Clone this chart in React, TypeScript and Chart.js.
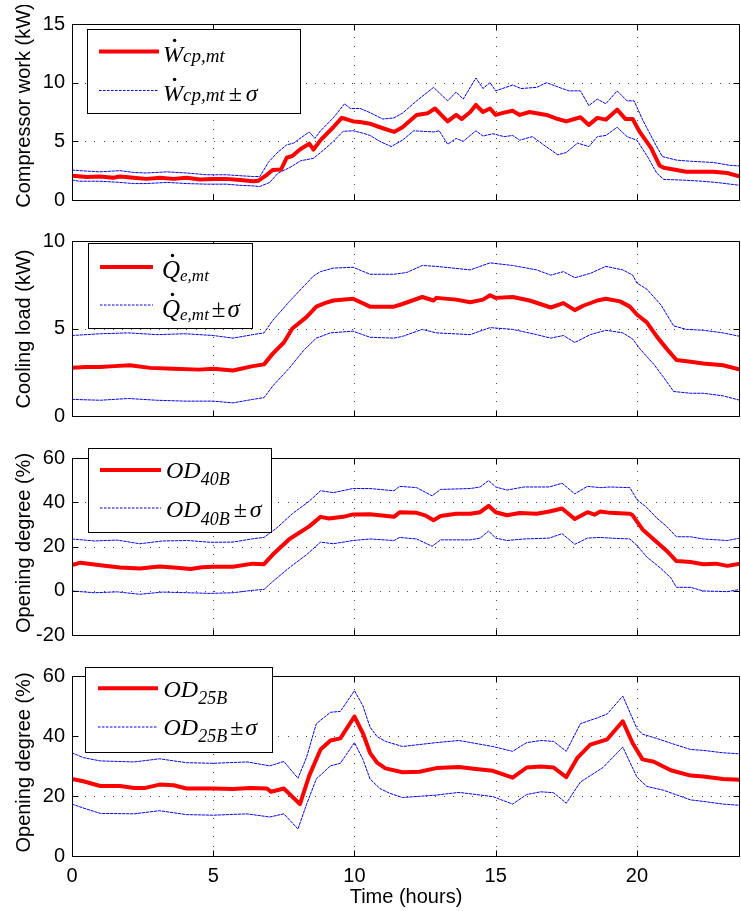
import React, { useEffect, useRef } from 'react';
import { Chart, registerables } from 'chart.js';

Chart.register(...registerables);

// ---------------- axes ----------------
const X_MIN = 0;
const X_MAX = 23.65;
const xTicks = [0, 5, 10, 15, 20];
const xTitle = 'Time (hours)';

const yTitles = ['Compressor work (kW)', 'Cooling load (kW)', 'Opening degree (%)', 'Opening degree (%)'];
const yRanges = [[0, 15], [0, 10], [-20, 60], [0, 60]];
const yTicks1 = [0, 5, 10, 15];
const yTicks2 = [0, 5, 10];
const yTicks3 = [-20, 0, 20, 40, 60];
const yTicks4 = [0, 20, 40, 60];

// ---------------- legend text ----------------
const legendSymbols = ['W', 'Q', 'OD', 'OD'];
const legendSubs = ['cp,mt', 'e,mt', '40B', '25B'];
const legendDotted = [true, true, false, false];
const legendPm = '±';
const legendSigma = 'σ';

// ---------------- Panel 1: compressor work (kW) ----------------
const wcpMeanT = [0, 0.52, 0.99, 1.46, 1.7, 2.17, 2.64, 3.12, 3.59, 4.06, 4.53, 5.0, 5.47, 5.95, 6.42, 6.6, 6.9, 7.1, 7.4, 7.6, 7.8, 8.07, 8.4, 8.55, 8.8, 9.0, 9.25, 9.55, 9.7, 9.96, 10.2, 10.55, 10.9, 11.4, 11.7, 12.2, 12.6, 12.85, 13.3, 13.6, 13.8, 14.1, 14.3, 14.55, 14.8, 15.0, 15.3, 15.6, 15.85, 16.2, 16.8, 17.2, 17.5, 18.0, 18.3, 18.6, 18.9, 19.3, 19.6, 19.85, 20.1, 20.5, 20.8, 20.95, 21.3, 21.75, 22.3, 22.7, 23.2, 23.65];
const wcpMean = [2.07, 1.96, 2.0, 1.9, 2.0, 1.9, 1.8, 1.9, 1.8, 1.9, 1.75, 1.8, 1.8, 1.7, 1.6, 1.65, 2.15, 2.55, 2.6, 3.6, 3.75, 4.3, 4.8, 4.3, 5.1, 5.6, 6.2, 7.0, 6.9, 6.7, 6.65, 6.5, 6.2, 5.8, 6.2, 7.25, 7.4, 7.8, 6.7, 7.25, 6.9, 7.5, 8.1, 7.5, 7.8, 7.25, 7.45, 7.6, 7.25, 7.5, 7.25, 6.9, 6.7, 7.05, 6.4, 7.0, 6.85, 7.7, 6.9, 6.9, 5.8, 4.45, 2.95, 2.75, 2.6, 2.4, 2.4, 2.4, 2.3, 2.0];
const wcpUpT = [0, 0.28, 0.99, 1.7, 2.17, 2.64, 3.36, 4.06, 4.77, 5.47, 5.95, 6.42, 6.65, 6.95, 7.25, 7.6, 7.85, 8.07, 8.4, 8.6, 8.8, 9.25, 9.65, 9.85, 10.2, 10.55, 11.0, 11.4, 11.7, 12.2, 12.8, 13.3, 13.6, 13.85, 14.3, 14.55, 14.8, 15.0, 15.6, 15.9, 16.45, 16.8, 17.3, 17.6, 18.0, 18.3, 18.6, 18.9, 19.3, 19.65, 19.9, 20.2, 20.6, 20.9, 21.4, 21.9, 22.7, 23.3, 23.65];
const wcpUp = [2.55, 2.5, 2.4, 2.5, 2.35, 2.3, 2.4, 2.3, 2.15, 2.15, 2.07, 2.0, 2.0, 3.2, 4.0, 4.7, 4.85, 5.25, 5.8, 5.25, 5.9, 7.0, 8.2, 7.8, 7.8, 7.45, 6.9, 7.0, 7.4, 8.45, 9.6, 8.45, 9.2, 8.6, 10.4, 9.5, 10.0, 9.3, 9.8, 9.5, 9.6, 10.0, 9.55, 9.3, 9.3, 8.05, 8.6, 8.2, 9.3, 8.45, 8.45, 6.85, 5.0, 3.7, 3.4, 3.3, 3.2, 2.95, 2.9];
const wcpLoT = [0, 0.28, 0.99, 1.7, 2.17, 2.64, 3.36, 4.06, 4.77, 5.47, 5.95, 6.42, 6.65, 7.0, 7.3, 7.7, 8.1, 8.55, 9.0, 9.25, 9.6, 9.95, 10.3, 10.55, 10.9, 11.3, 11.7, 12.1, 12.8, 13.0, 13.3, 13.6, 13.85, 14.3, 14.55, 14.9, 15.3, 15.6, 15.85, 16.3, 16.7, 17.2, 17.5, 17.9, 18.3, 18.6, 18.9, 19.3, 19.65, 20.0, 20.4, 20.7, 20.95, 21.6, 22.3, 22.8, 23.65];
const wcpLo = [1.7, 1.6, 1.6, 1.5, 1.4, 1.4, 1.5, 1.4, 1.35, 1.35, 1.25, 1.2, 1.15, 1.5, 2.3, 2.75, 3.35, 3.55, 4.45, 5.0, 5.85, 5.9, 5.7, 5.5, 5.0, 4.55, 5.1, 5.9, 5.8, 5.9, 4.75, 5.25, 5.0, 5.9, 5.45, 5.65, 5.4, 5.5, 5.1, 5.4, 4.7, 3.85, 4.05, 4.85, 4.55, 5.4, 5.5, 6.2, 5.4, 5.1, 3.6, 2.3, 1.75, 1.7, 1.6, 1.5, 1.25];

// ---------------- Panel 2: cooling load (kW) ----------------
const qMeanT = [0, 0.5, 1.0, 1.5, 2.05, 2.76, 3.6, 4.5, 5.0, 5.7, 6.4, 6.8, 7.1, 7.5, 7.8, 8.3, 8.65, 8.95, 9.25, 9.95, 10.55, 11.4, 11.7, 12.4, 12.8, 12.9, 13.6, 14.1, 14.55, 14.8, 15.0, 15.6, 16.2, 16.95, 17.4, 17.8, 18.1, 18.6, 18.9, 19.4, 19.75, 20.0, 20.35, 20.7, 21.05, 21.4, 21.9, 22.35, 23.05, 23.65];
const qMean = [2.75, 2.8, 2.8, 2.85, 2.9, 2.75, 2.7, 2.65, 2.7, 2.6, 2.85, 2.95, 3.55, 4.2, 5.0, 5.65, 6.25, 6.45, 6.6, 6.7, 6.25, 6.25, 6.4, 6.8, 6.6, 6.75, 6.65, 6.5, 6.65, 6.9, 6.75, 6.8, 6.6, 6.2, 6.45, 6.05, 6.3, 6.6, 6.7, 6.55, 6.25, 5.8, 5.35, 4.55, 3.85, 3.2, 3.1, 3.0, 2.9, 2.65];
const qUpT = [0, 1.0, 2.0, 3.0, 4.0, 5.0, 5.7, 6.4, 6.8, 7.1, 7.7, 8.05, 8.55, 8.8, 9.25, 9.95, 10.55, 11.4, 11.85, 12.4, 12.9, 14.1, 14.8, 15.6, 16.45, 16.95, 17.4, 17.8, 18.35, 18.9, 19.5, 19.85, 20.0, 20.35, 20.85, 21.3, 21.75, 22.35, 23.05, 23.65];
const qUp = [4.6, 4.7, 4.75, 4.65, 4.7, 4.6, 4.45, 4.65, 4.75, 5.45, 6.55, 7.15, 8.0, 8.25, 8.45, 8.5, 8.1, 8.1, 8.2, 8.6, 8.55, 8.35, 8.75, 8.6, 8.35, 8.05, 8.25, 7.9, 8.15, 8.55, 8.35, 8.05, 7.6, 7.25, 6.35, 5.15, 4.95, 4.9, 4.75, 4.55];
const qLoT = [0, 1.0, 2.0, 3.0, 4.0, 5.0, 5.7, 6.4, 6.8, 7.1, 7.7, 8.2, 8.65, 9.15, 9.95, 10.55, 11.4, 11.7, 12.4, 12.9, 14.1, 14.8, 15.6, 16.45, 16.95, 17.4, 17.8, 18.35, 18.9, 19.5, 19.85, 20.1, 20.6, 20.95, 21.3, 21.9, 22.35, 23.05, 23.65];
const qLo = [0.95, 0.9, 1.0, 0.9, 0.85, 0.85, 0.75, 0.95, 1.05, 1.7, 2.75, 3.75, 4.45, 4.75, 4.85, 4.5, 4.45, 4.55, 4.95, 4.75, 4.65, 5.05, 4.95, 4.65, 4.45, 4.6, 4.2, 4.65, 4.9, 4.75, 4.4, 3.85, 2.95, 2.2, 1.4, 1.3, 1.3, 1.15, 0.9];

// ---------------- Panel 3: opening degree OD40B (%) ----------------
const od40MeanT = [0, 0.3, 1.0, 1.7, 2.4, 3.1, 3.6, 4.2, 4.6, 5.0, 5.7, 6.4, 6.8, 7.1, 7.7, 8.4, 8.8, 9.1, 9.6, 9.95, 10.55, 11.4, 11.6, 12.2, 12.5, 12.8, 13.05, 13.6, 14.1, 14.45, 14.75, 15.0, 15.4, 15.85, 16.45, 16.9, 17.35, 17.8, 18.25, 18.5, 18.7, 19.05, 19.75, 19.85, 20.2, 20.7, 21.05, 21.4, 21.9, 22.35, 22.8, 23.2, 23.65];
const od40Mean = [11.55, 12.7, 11.55, 10.55, 10.1, 11.0, 10.5, 9.85, 10.6, 10.85, 10.85, 12.25, 12.0, 16.25, 23.4, 29.1, 33.4, 32.65, 33.4, 34.5, 34.6, 33.4, 35.5, 35.2, 34.1, 31.9, 33.8, 34.8, 34.8, 35.5, 38.4, 35.5, 34.1, 35.1, 34.8, 35.8, 37.2, 32.4, 35.5, 34.4, 35.8, 35.2, 34.8, 34.1, 27.7, 22.0, 18.1, 13.4, 13.0, 12.0, 12.25, 11.25, 12.25];
const od40UpT = [0, 0.8, 1.6, 2.4, 3.2, 4.1, 4.9, 5.7, 6.4, 6.8, 7.25, 7.8, 8.4, 8.8, 9.25, 9.95, 10.55, 11.4, 11.6, 12.2, 12.75, 13.05, 14.1, 14.45, 14.75, 15.0, 15.4, 16.0, 16.9, 17.35, 17.8, 18.25, 18.7, 19.05, 19.75, 20.0, 20.35, 20.7, 21.05, 21.4, 21.9, 22.35, 23.2, 23.65];
const od40Up = [23.4, 22.5, 22.9, 21.25, 22.5, 22.7, 21.9, 22.0, 23.5, 24.1, 28.4, 34.8, 40.5, 45.2, 44.35, 46.2, 46.2, 45.2, 47.2, 46.6, 42.9, 45.8, 46.2, 46.9, 49.8, 46.9, 45.5, 46.9, 46.9, 48.6, 43.8, 47.2, 46.6, 46.9, 46.6, 41.2, 37.6, 32.9, 29.1, 24.4, 24.4, 23.4, 22.7, 23.8];
const od40LoT = [0, 0.8, 1.6, 2.4, 3.2, 4.1, 4.9, 5.7, 6.4, 6.8, 7.1, 7.7, 8.3, 8.8, 9.25, 9.95, 10.55, 11.4, 11.6, 12.2, 12.75, 13.05, 14.1, 14.45, 14.75, 15.0, 15.4, 16.0, 16.9, 17.35, 17.8, 18.25, 18.7, 19.05, 19.75, 20.0, 20.35, 20.85, 21.2, 21.4, 21.9, 22.35, 23.2, 23.65];
const od40Lo = [-0.1, -0.9, -0.5, -1.6, -0.6, -0.9, -1.2, -0.9, 0.2, 0.6, 4.1, 10.5, 16.25, 22.0, 21.25, 22.7, 23.4, 22.7, 24.1, 23.4, 20.1, 23.0, 23.0, 23.8, 27.0, 23.8, 22.7, 23.4, 23.8, 25.8, 21.0, 23.8, 24.1, 23.8, 23.4, 20.5, 15.25, 10.1, 5.85, 1.55, 1.55, -0.1, -0.4, 0.6];

// ---------------- Panel 4: opening degree OD25B (%) ----------------
const od25MeanT = [0, 0.4, 1.0, 1.7, 2.2, 2.6, 3.1, 3.6, 4.05, 5.0, 5.7, 6.3, 6.9, 7.05, 7.5, 8.07, 8.4, 8.8, 9.15, 9.5, 10.0, 10.3, 10.55, 10.8, 11.1, 11.7, 12.3, 12.9, 13.7, 14.3, 14.9, 15.6, 16.1, 16.6, 17.05, 17.5, 17.9, 18.35, 18.95, 19.5, 19.85, 20.2, 20.6, 21.2, 21.9, 22.35, 23.05, 23.65];
const od25Mean = [25.7, 24.9, 23.35, 23.35, 22.7, 22.7, 23.8, 23.6, 22.5, 22.5, 22.3, 22.7, 22.5, 21.4, 22.5, 17.3, 26.8, 35.5, 38.5, 39.2, 46.5, 40.9, 34.4, 31.1, 29.2, 27.9, 28.1, 29.3, 29.7, 29.0, 28.4, 26.1, 29.5, 29.8, 29.5, 26.3, 32.8, 37.1, 38.9, 44.9, 37.6, 32.2, 31.4, 28.6, 26.8, 26.5, 25.7, 25.4];
const od25UpT = [0, 0.4, 1.0, 2.2, 3.1, 4.05, 5.0, 6.2, 7.0, 7.5, 8.0, 8.3, 8.65, 9.15, 9.5, 10.0, 10.3, 10.55, 10.8, 11.1, 11.7, 12.9, 13.7, 14.9, 15.6, 16.1, 16.6, 17.05, 17.5, 18.0, 18.6, 18.95, 19.5, 20.0, 20.2, 20.7, 21.2, 21.9, 22.35, 23.05, 23.65];
const od25Up = [34.4, 32.8, 31.7, 31.35, 32.4, 31.1, 30.9, 31.35, 30.05, 31.5, 25.9, 32.8, 44.1, 47.9, 48.2, 55.1, 50.05, 43.0, 39.8, 38.2, 36.5, 37.8, 38.5, 36.5, 34.9, 37.8, 38.5, 38.2, 34.9, 44.1, 46.05, 47.35, 53.3, 42.5, 40.6, 39.2, 37.6, 35.5, 35.2, 34.4, 34.05];
const od25LoT = [0, 0.4, 1.0, 2.2, 3.1, 4.05, 5.0, 6.2, 7.0, 7.5, 8.0, 8.3, 8.65, 9.15, 9.5, 10.0, 10.3, 10.55, 10.9, 11.25, 11.7, 12.9, 13.7, 14.9, 15.6, 16.1, 16.6, 17.05, 17.5, 18.0, 18.8, 19.5, 20.0, 20.35, 20.95, 21.9, 22.35, 23.05, 23.65];
const od25Lo = [17.3, 16.0, 14.2, 14.05, 15.1, 13.8, 13.6, 14.05, 13.0, 14.05, 9.0, 17.1, 25.7, 30.05, 30.9, 37.8, 32.2, 25.7, 22.5, 20.9, 19.5, 20.3, 21.2, 19.8, 17.3, 20.5, 21.4, 21.1, 17.6, 24.65, 29.5, 36.3, 26.3, 23.2, 21.9, 18.7, 18.2, 17.3, 16.9];

// ---------------- assembly ----------------
type Series = [number[], number[]];
const panelSeries: Series[][] = [
  [[wcpMeanT, wcpMean], [wcpUpT, wcpUp], [wcpLoT, wcpLo]],
  [[qMeanT, qMean], [qUpT, qUp], [qLoT, qLo]],
  [[od40MeanT, od40Mean], [od40UpT, od40Up], [od40LoT, od40Lo]],
  [[od25MeanT, od25Mean], [od25UpT, od25Up], [od25LoT, od25Lo]],
];
const panelYTicks = [yTicks1, yTicks2, yTicks3, yTicks4];

// layout (page pixels)
const W = 741;
const canvasLayouts = [
  { top: 5, height: 214, padTop: 14, padBottom: 14, xH: 0 },
  { top: 222, height: 213, padTop: 14, padBottom: 14, xH: 0 },
  { top: 439, height: 215, padTop: 14, padBottom: 14, xH: 0 },
  { top: 657, height: 254, padTop: 14, padBottom: 0, xH: 55 },
];
const yTitleX = 24;
const yTitleCenters = [105.5, 329, 543, 762.5];
const legendLayouts = [
  { box: [87, 29, 300, 113], line: [99, 159], tx: 163, main: 24, sub: 19, pmGap: 4, sigGap: 4,
    rows: [{ ly: 51.5, base: 61.5, drop: 0.5 }, { ly: 90.5, base: 100.5, drop: 0.5 }] },
  { box: [88, 243, 252, 328], line: [100, 153], tx: 162, main: 25, sub: 17, pmGap: 3, sigGap: 2,
    rows: [{ ly: 267, base: 277.5, drop: 3.5 }, { ly: 305, base: 316.5, drop: 3.5 }] },
  { box: [88, 448, 271, 532], line: [100, 161], tx: 166, main: 24, sub: 18, pmGap: 4, sigGap: 3,
    rows: [{ ly: 470, base: 477.7, drop: 7.3 }, { ly: 508, base: 516.7, drop: 7.8 }] },
  { box: [85, 667, 272, 752], line: [98, 158], tx: 163.5, main: 24, sub: 18, pmGap: 3, sigGap: 2,
    rows: [{ ly: 688.3, base: 696.7, drop: 6.8 }, { ly: 727, base: 735, drop: 6.7 }] },
];

const SANS = '"Liberation Sans", Arial, Helvetica, sans-serif';
const SERIF = '"Liberation Serif", "Times New Roman", serif';
const RED = '#ff0000';
const BLUE = '#0000ff';
const BAND_DASH = [2.5, 1.5];

function axesPlugin(i: number) {
  return {
    id: 'matlabAxes' + i,
    beforeDatasetsDraw(chart: any) {
      const { ctx, chartArea: a, scales } = chart;
      const x = scales.x, y = scales.y;
      ctx.save();
      ctx.fillStyle = 'rgba(0,0,0,0.72)';
      const step = 9.2;
      xTicks.forEach((v) => {
        const px = Math.round(x.getPixelForValue(v));
        if (px <= a.left + 1 || px >= a.right - 1) return;
        for (let yy = a.top + 4; yy < a.bottom; yy += step) ctx.fillRect(px, Math.round(yy), 1, 1);
      });
      panelYTicks[i].forEach((v) => {
        const py = Math.round(y.getPixelForValue(v));
        if (py <= a.top + 1 || py >= a.bottom - 1) return;
        for (let xx = a.left + 4; xx < a.right; xx += step) ctx.fillRect(Math.round(xx), py, 1, 1);
      });
      ctx.restore();
    },
    afterDatasetsDraw(chart: any) {
      const { ctx, chartArea: a, scales } = chart;
      const x = scales.x, y = scales.y;
      ctx.save();
      ctx.strokeStyle = '#000';
      ctx.lineWidth = 1;
      ctx.setLineDash([]);
      const L = Math.round(a.left) + 0.5, R = Math.round(a.right) - 0.5;
      const T = Math.round(a.top) + 0.5, B = Math.round(a.bottom) + 0.5;
      ctx.beginPath();
      ctx.rect(L, T, R - L, B - T);
      ctx.stroke();
      const tl = 6;
      ctx.beginPath();
      xTicks.forEach((v) => {
        const px = Math.round(x.getPixelForValue(v)) + 0.5;
        ctx.moveTo(px, T); ctx.lineTo(px, T + tl);
        ctx.moveTo(px, B); ctx.lineTo(px, B - tl);
      });
      panelYTicks[i].forEach((v) => {
        const py = Math.round(y.getPixelForValue(v)) + 0.5;
        ctx.moveTo(L, py); ctx.lineTo(L + tl, py);
        ctx.moveTo(R, py); ctx.lineTo(R - tl, py);
      });
      ctx.stroke();
      // y-axis title
      const oy = canvasLayouts[i].top;
      ctx.save();
      ctx.translate(yTitleX, yTitleCenters[i] - oy);
      ctx.rotate(-Math.PI / 2);
      ctx.fillStyle = '#000';
      ctx.font = `20px ${SANS}`;
      ctx.textAlign = 'center';
      ctx.textBaseline = 'middle';
      ctx.fillText(yTitles[i], 0, 0);
      ctx.restore();
      ctx.restore();
    },
  };
}

function drawMathLabel(ctx: CanvasRenderingContext2D, i: number, withPm: boolean, x: number, base: number, drop: number) {
  const g = legendLayouts[i];
  ctx.fillStyle = '#000';
  ctx.textAlign = 'left';
  ctx.textBaseline = 'alphabetic';
  ctx.font = `italic ${g.main}px ${SERIF}`;
  const sym = legendSymbols[i];
  ctx.fillText(sym, x, base);
  const w = ctx.measureText(sym).width;
  if (legendDotted[i]) {
    ctx.beginPath();
    ctx.arc(x + w * 0.58, base - g.main * 0.88, 1.7, 0, Math.PI * 2);
    ctx.fill();
  }
  let cx = x + w;
  ctx.font = `italic ${g.sub}px ${SERIF}`;
  const sub = legendSubs[i];
  ctx.fillText(sub, cx, base + drop);
  cx += ctx.measureText(sub).width;
  if (withPm) {
    cx += g.pmGap;
    ctx.font = `${g.main}px ${SERIF}`;
    ctx.fillText(legendPm, cx, base);
    cx += ctx.measureText(legendPm).width + g.sigGap;
    ctx.font = `italic ${g.main}px ${SERIF}`;
    ctx.fillText(legendSigma, cx, base);
  }
}

function legendPlugin(i: number) {
  return {
    id: 'mathLegend' + i,
    afterDraw(chart: any) {
      const g = legendLayouts[i];
      const oy = canvasLayouts[i].top;
      const ctx: CanvasRenderingContext2D = chart.ctx;
      ctx.save();
      const [x0, y0, x1, y1] = g.box;
      ctx.fillStyle = '#fff';
      ctx.fillRect(x0, y0 - oy, x1 - x0, y1 - y0);
      ctx.strokeStyle = '#000';
      ctx.lineWidth = 1;
      ctx.setLineDash([]);
      ctx.strokeRect(x0 + 0.5, y0 - oy + 0.5, x1 - x0, y1 - y0);
      g.rows.forEach((r, k) => {
        ctx.beginPath();
        ctx.moveTo(g.line[0], r.ly - oy);
        ctx.lineTo(g.line[1], r.ly - oy);
        if (k === 0) {
          ctx.strokeStyle = RED; ctx.lineWidth = 4; ctx.setLineDash([]);
        } else {
          ctx.strokeStyle = BLUE; ctx.lineWidth = 1; ctx.setLineDash(BAND_DASH);
        }
        ctx.stroke();
        ctx.setLineDash([]);
        drawMathLabel(ctx, i, k === 1, g.tx, r.base - oy, r.drop);
      });
      ctx.restore();
    },
  };
}

function buildConfig(i: number): any {
  const lay = canvasLayouts[i];
  const isLast = i === 3;
  const font = { family: SANS, size: 20 };
  const datasets = panelSeries[i].map(([ts, vs], k) => ({
    data: ts.map((t, j) => ({ x: t, y: vs[j] })),
    borderColor: k === 0 ? RED : BLUE,
    borderWidth: k === 0 ? 4 : 1,
    borderDash: k === 0 ? [] : BAND_DASH,
    borderJoinStyle: 'round',
    borderCapStyle: 'round',
    pointRadius: 0,
    tension: 0,
    fill: false,
    order: k === 0 ? 0 : 1,
  }));
  return {
    type: 'line',
    data: { datasets },
    options: {
      animation: false,
      responsive: false,
      events: [],
      layout: { padding: { left: 0, right: 1, top: lay.padTop, bottom: lay.padBottom } },
      plugins: { legend: { display: false }, tooltip: { enabled: false } },
      scales: {
        x: {
          type: 'linear',
          min: X_MIN,
          max: X_MAX,
          afterBuildTicks: (s: any) => { s.ticks = xTicks.map((v) => ({ value: v })); },
          afterFit: (s: any) => { s.height = lay.xH; },
          grid: { display: false, drawTicks: false },
          border: { display: false },
          ticks: { display: isLast, font, color: '#000', padding: 8, maxRotation: 0, autoSkip: false },
          title: { display: isLast, text: xTitle, font, color: '#000', padding: { top: 0, bottom: 2 } },
        },
        y: {
          type: 'linear',
          min: yRanges[i][0],
          max: yRanges[i][1],
          afterBuildTicks: (s: any) => { s.ticks = panelYTicks[i].map((v) => ({ value: v })); },
          afterFit: (s: any) => { s.width = 72; },
          grid: { display: false, drawTicks: false },
          border: { display: false },
          ticks: { font, color: '#000', padding: 7, autoSkip: false },
          title: { display: false, text: yTitles[i] },
        },
      },
    },
    plugins: [axesPlugin(i), legendPlugin(i)],
  };
}

export default function App() {
  const refs = useRef<(HTMLCanvasElement | null)[]>([]);
  useEffect(() => {
    const charts = canvasLayouts.map((_, i) => new Chart(refs.current[i] as HTMLCanvasElement, buildConfig(i)));
    return () => charts.forEach((c) => c.destroy());
  }, []);
  return (
    <div style={{ position: 'absolute', left: 0, top: 0, width: W, height: 911, background: '#fff' }}>
      {canvasLayouts.map((l, i) => (
        <canvas
          key={i}
          ref={(el) => { refs.current[i] = el; }}
          width={W}
          height={l.height}
          style={{ position: 'absolute', left: 0, top: l.top, width: W, height: l.height }}
        />
      ))}
    </div>
  );
}
